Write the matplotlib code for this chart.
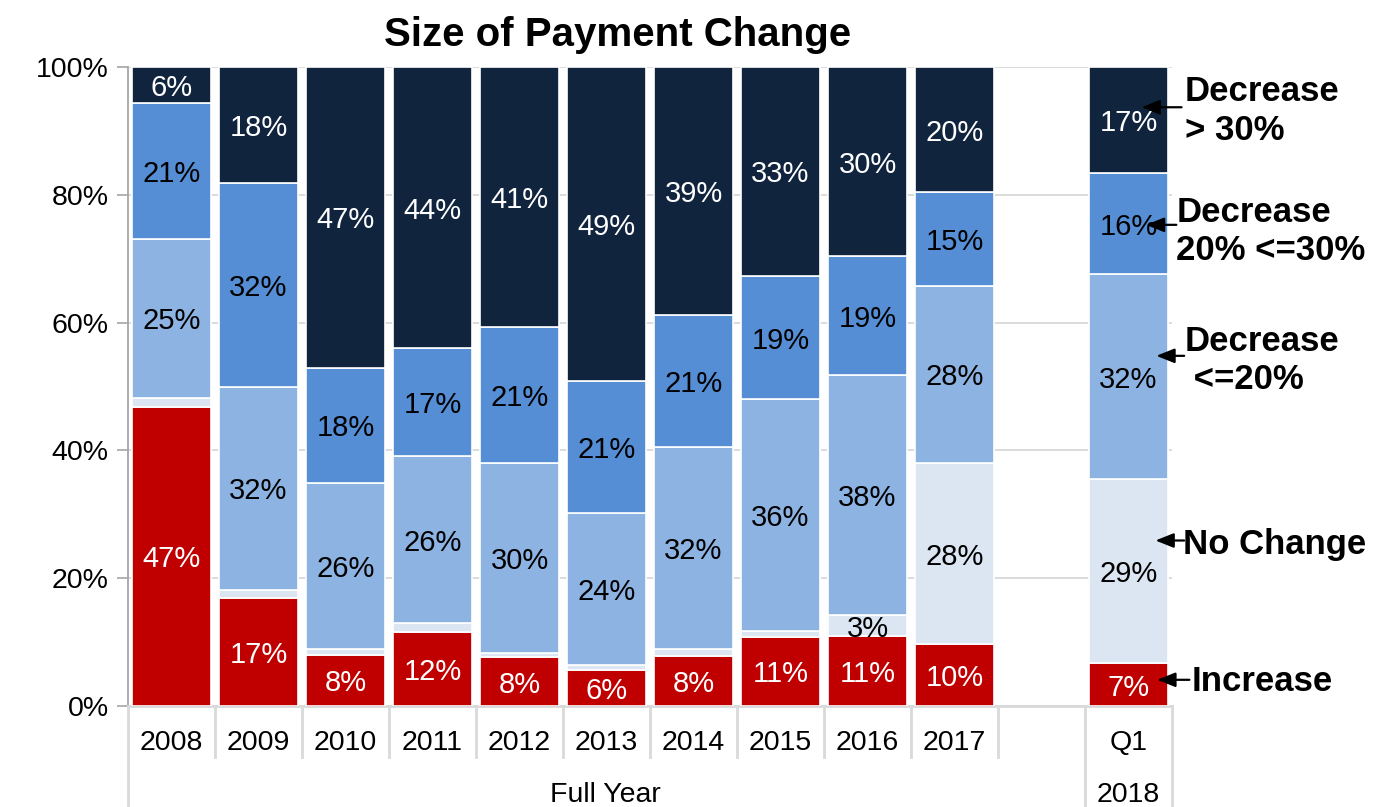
import matplotlib
matplotlib.use("Agg")
import matplotlib.pyplot as plt
from matplotlib.transforms import blended_transform_factory
import numpy as np

plt.rcParams['font.family'] = ['Liberation Sans', 'DejaVu Sans']

categories = ["2008", "2009", "2010", "2011", "2012", "2013", "2014", "2015", "2016", "2017", "", "Q1"]
groups = ["Full Year", "2018"]
series_names = ["Increase", "No Change", "Decrease <=20%", "Decrease 20% <=30%", "Decrease > 30%"]

increase = [46.8, 16.9, 8.0, 11.6, 7.6, 5.6, 7.8, 10.8, 10.9, 9.7, np.nan, 6.7]
no_change = [1.4, 1.3, 0.9, 1.4, 0.7, 0.8, 1.1, 0.9, 3.3, 28.3, np.nan, 28.8]
dec_le20 = [24.9, 31.7, 26.0, 26.1, 29.7, 23.8, 31.6, 36.3, 37.6, 27.8, np.nan, 32.1]
dec_20_30 = [21.3, 31.9, 18.0, 16.9, 21.3, 20.7, 20.7, 19.3, 18.6, 14.6, np.nan, 15.8]
dec_gt30 = [5.6, 18.2, 47.1, 44.0, 40.7, 49.1, 38.8, 32.7, 29.6, 19.6, np.nan, 16.6]

series = [increase, no_change, dec_le20, dec_20_30, dec_gt30]
colors = ["#C00000", "#DCE6F2", "#8DB3E2", "#558ED5", "#10243E"]
text_colors = ["white", "black", "black", "black", "white"]

fig = plt.figure(figsize=(13.99, 8.07), dpi=100)
ax = fig.add_axes([128/1399, 101/807, 1044/1399, 639/807])

x = np.arange(len(categories))
bottom = np.zeros(len(categories))
for vals, col, tcol in zip(series, colors, text_colors):
    v = np.array(vals, dtype=float) / 100.0
    mask = ~np.isnan(v)
    ax.bar(x[mask], v[mask], bottom=bottom[mask], width=0.9, color=col,
           edgecolor="white", linewidth=1.2, zorder=3)
    for xi, vi, bi, raw in zip(x[mask], v[mask], bottom[mask], np.array(vals)[mask]):
        if raw >= 2:
            ax.text(xi, bi + vi / 2, f"{raw:.0f}%", ha="center", va="center_baseline",
                    fontsize=21, color=tcol, zorder=5)
    bottom[mask] += v[mask]

ax.set_xlim(-0.5, len(categories) - 0.5)
ax.set_ylim(0, 1)
ax.set_yticks(np.arange(0, 1.01, 0.2))
ax.set_yticklabels([f"{int(round(t*100))}%" for t in np.arange(0, 1.01, 0.2)], fontsize=20.5)
ax.set_xticks([])
ax.tick_params(axis="y", length=8, width=1.2, color="#A6A6A6", pad=6)
ax.grid(axis="y", color="#D9D9D9", linewidth=1.3, zorder=0)
for s in ["top", "right"]:
    ax.spines[s].set_visible(False)
ax.spines["left"].set_color("#A6A6A6")
ax.spines["left"].set_linewidth(1.3)
ax.spines["bottom"].set_color("#D9D9D9")
ax.spines["bottom"].set_linewidth(2)

# Category axis (two levels)
trans = blended_transform_factory(ax.transData, ax.transAxes)
for xi, lab in zip(x, categories):
    ax.text(xi, -0.053, lab, transform=trans, ha="center", va="center_baseline", fontsize=20.5)
sep_short = np.arange(0.5, 10.0, 1.0)
for s in sep_short:
    ax.plot([s, s], [0, -0.08], transform=trans, color="#D9D9D9", lw=2, clip_on=False)
for s in [-0.5, 10.5, 11.5]:
    ax.plot([s, s], [0, -0.16], transform=trans, color="#D9D9D9", lw=2, clip_on=False)
ax.text(4.99, -0.134, groups[0], transform=trans, ha="center", va="center_baseline", fontsize=20.5)
ax.text(11, -0.134, groups[1], transform=trans, ha="center", va="center_baseline", fontsize=20.5)

fig.text(617.5/1399, 1 - 35/807, "Size of Payment Change", ha="center", va="center",
         fontsize=29, fontweight="bold")

# Legend annotations
ann_labels = ["Decrease\n> 30%", "Decrease\n20% <=30%", "Decrease\n <=20%", "No Change", "Increase"]
ann_text_xy = [(11.65, 0.931), (11.55, 0.742), (11.64, 0.541), (11.63, 0.252), (11.72, 0.039)]
ann_heads = [(11.15, 0.937), (11.2, 0.753), (11.32, 0.548), (11.31, 0.259), (11.33, 0.041)]
ann_tails = [(11.61, 0.937), (11.55, 0.753), (11.64, 0.548), (11.64, 0.259), (11.70, 0.041)]
for lab, txy, head, tail in zip(ann_labels, ann_text_xy, ann_heads, ann_tails):
    ax.text(txy[0], txy[1], lab, ha="left", va="center", fontsize=25, fontweight="bold",
            clip_on=False, zorder=6, linespacing=1.2)
    ax.annotate("", xy=head, xytext=tail,
                arrowprops=dict(arrowstyle="-|>,head_length=0.55,head_width=0.22",
                                mutation_scale=20, color="black", lw=1.6,
                                shrinkA=0, shrinkB=0),
                annotation_clip=False, zorder=7)

fig.savefig("out.png", dpi=100)
